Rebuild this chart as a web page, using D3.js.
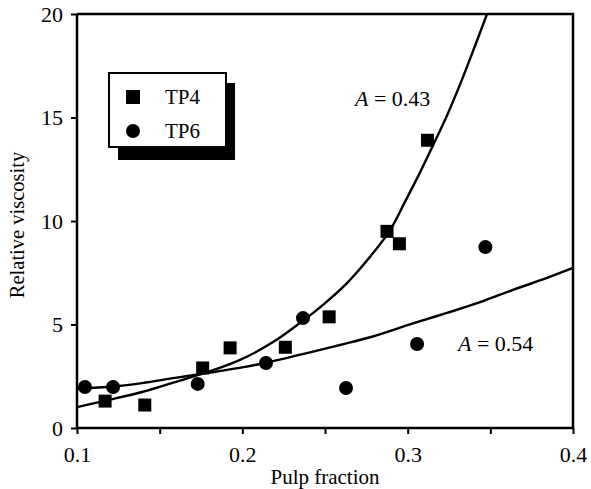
<!DOCTYPE html>
<html><head><meta charset="utf-8">
<script src="https://cdn.jsdelivr.net/npm/d3@7"></script>
<style>body{margin:0;background:#fff}svg{display:block}</style>
</head><body>
<svg id="c" width="591" height="489"></svg>
<script>
// TP4 (squares)
const tp4X = [0.117, 0.141, 0.176, 0.1926, 0.226, 0.2525, 0.2875, 0.295, 0.312];
const tp4Y = [1.30, 1.11, 2.90, 3.87, 3.90, 5.37, 9.50, 8.90, 13.90];
// TP6 (circles)
const tp6X = [0.1048, 0.1218, 0.173, 0.2143, 0.2367, 0.2627, 0.3057, 0.347];
const tp6Y = [1.98, 1.98, 2.13, 3.14, 5.31, 1.93, 4.06, 8.74];
// fitted curves
const fitA043X = [0.100, 0.1188, 0.1393, 0.1593, 0.1793, 0.1986, 0.2186, 0.2361, 0.2488, 0.2633, 0.2760, 0.2893, 0.2985, 0.3075, 0.3153, 0.3238, 0.3317, 0.3395, 0.348];
const fitA043Y = [1.01, 1.35, 1.74, 2.22, 2.71, 3.29, 4.15, 5.15, 5.95, 7.00, 8.15, 9.55, 10.95, 12.35, 13.65, 15.10, 16.60, 18.20, 20.0];
const fitA054X = [0.100, 0.1188, 0.1393, 0.1593, 0.1793, 0.2016, 0.2149, 0.2391, 0.2591, 0.2790, 0.3032, 0.3238, 0.3438, 0.3637, 0.3843, 0.400];
const fitA054Y = [1.93, 1.98, 2.17, 2.42, 2.66, 2.95, 3.17, 3.62, 4.01, 4.42, 5.05, 5.56, 6.08, 6.67, 7.25, 7.73];
const xTicks = [0.1, 0.2, 0.3, 0.4];
const xMinorTicks = [0.15, 0.25, 0.35];
const yTicks = [0, 5, 10, 15, 20];
const legendLabels = ["TP4", "TP6"];

const svg = d3.select("#c");
const font = "'Liberation Serif','Times New Roman',serif";
const x = d3.scaleLinear().domain([0.1, 0.4]).range([77, 573]);
const y = d3.scaleLinear().domain([0, 20]).range([428, 14]);

const xAxis = d3.axisBottom(x).tickValues(xTicks).tickFormat(d3.format(".1f")).tickSize(6).tickPadding(12);
const gx = svg.append("g").attr("transform", `translate(0,${y(0)})`).call(xAxis);
svg.append("g").attr("transform", `translate(0,${y(0)})`)
  .call(d3.axisBottom(x).tickValues(xMinorTicks).tickFormat("").tickSize(6))
  .select(".domain").remove();
const yAxis = d3.axisLeft(y).tickValues(yTicks).tickSize(6).tickPadding(8);
const gy = svg.append("g").attr("transform", `translate(${x(0.1)},0)`).call(yAxis);
svg.selectAll(".tick line").attr("stroke", "#000").attr("stroke-width", 2);
[gx, gy].forEach(g => {
  g.attr("font-size", 22).attr("font-family", font);
  g.select(".domain").attr("stroke", "#000").attr("stroke-width", 2.5);
  g.selectAll("text").attr("font-family", font).attr("font-size", 22).attr("fill", "#000");
});
gx.select(".domain").attr("d", `M${x(0.1)},0H${x(0.4)}`);
gy.select(".domain").attr("d", `M0,${y(0)}V${y(20)}`);
// frame top/right
svg.append("path").attr("d", `M${x(0.1)},${y(20)}H${x(0.4)}V${y(0)}`)
  .attr("fill", "none").attr("stroke", "#000").attr("stroke-width", 2.5);

// curves
const line = d3.line().x(d => x(d[0])).y(d => y(d[1])).curve(d3.curveCatmullRom);
svg.append("path").datum(d3.zip(fitA043X, fitA043Y)).attr("d", line)
  .attr("fill", "none").attr("stroke", "#000").attr("stroke-width", 2.4);
svg.append("path").datum(d3.zip(fitA054X, fitA054Y)).attr("d", line)
  .attr("fill", "none").attr("stroke", "#000").attr("stroke-width", 2.4);

// points
const sq = 13;
svg.append("g").selectAll("rect").data(d3.zip(tp4X, tp4Y)).join("rect")
  .attr("x", d => x(d[0]) - sq / 2).attr("y", d => y(d[1]) - sq / 2)
  .attr("width", sq).attr("height", sq).attr("fill", "#000");
svg.append("g").selectAll("circle").data(d3.zip(tp6X, tp6Y)).join("circle")
  .attr("cx", d => x(d[0])).attr("cy", d => y(d[1])).attr("r", 7).attr("fill", "#000");

// legend
const lg = svg.append("g");
lg.append("rect").attr("x", 118).attr("y", 83).attr("width", 117).attr("height", 77).attr("fill", "#000");
lg.append("rect").attr("x", 109).attr("y", 73).attr("width", 117).attr("height", 74)
  .attr("fill", "#fff").attr("stroke", "#000").attr("stroke-width", 2);
lg.append("rect").attr("x", 133 - 7).attr("y", 97 - 7).attr("width", 14).attr("height", 14).attr("fill", "#000");
lg.append("circle").attr("cx", 133).attr("cy", 131).attr("r", 7).attr("fill", "#000");
lg.selectAll("text").data(legendLabels).join("text")
  .attr("x", 165).attr("y", (d, i) => 104 + i * 34)
  .attr("font-family", font).attr("font-size", 21).text(d => d);

// annotations
function ann(tx, ty, val) {
  const t = svg.append("text").attr("x", tx).attr("y", ty).attr("font-family", font).attr("font-size", 22);
  t.append("tspan").attr("font-style", "italic").text("A");
  t.append("tspan").text(" = " + val);
}
ann(355, 106, "0.43");
ann(458, 351, "0.54");

// axis titles
svg.append("text").attr("x", 325).attr("y", 484).attr("text-anchor", "middle")
  .attr("font-family", font).attr("font-size", 21).text("Pulp fraction");
svg.append("text").attr("transform", "translate(24,225) rotate(-90)").attr("text-anchor", "middle")
  .attr("font-family", font).attr("font-size", 20.5).text("Relative viscosity");
</script>
</body></html>
